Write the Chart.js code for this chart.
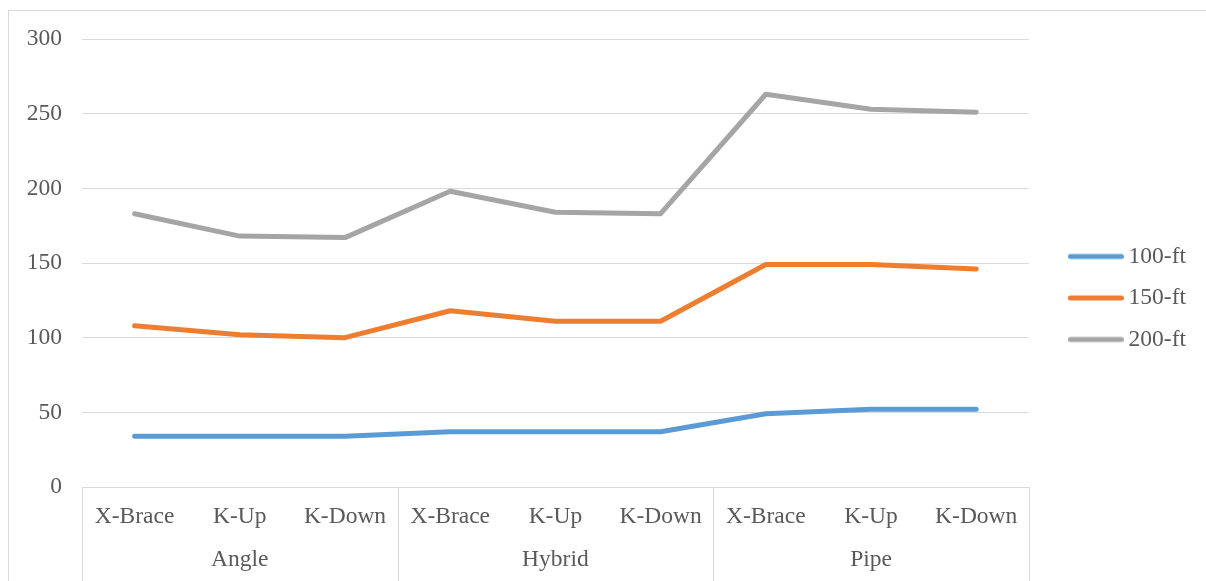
<!DOCTYPE html>
<html>
<head>
<meta charset="utf-8">
<script src="https://cdn.jsdelivr.net/npm/chart.js@4/dist/chart.umd.min.js"></script>
<style>
    html, body { margin: 0; padding: 0; background: #fff; overflow: hidden; }
    #frame { position: absolute; left: 8px; top: 10px; width: 1220px; height: 600px; border: 1px solid #d9d9d9; box-sizing: border-box; }
    #wrap { position: absolute; left: 0; top: 0; width: 1206px; height: 581px; }
</style>
</head>
<body>
<div id="frame"></div>
<div id="wrap"><canvas id="linha"></canvas></div>
<script>
// categorias: tipo de contraventamento dentro de cada grupo de perfil
const groups = ['Angle', 'Hybrid', 'Pipe']
const braces = ['X-Brace', 'K-Up', 'K-Down']
const yTicks = [0, 50, 100, 150, 200, 250, 300]

const serie_100 = [34, 34, 34, 37, 37, 37, 49, 52, 52]
const serie_150 = [108, 102, 100, 118, 111, 111, 149, 149, 146]
const serie_200 = [183, 168, 167, 198, 184, 183, 263, 253, 251]

const labels = []
groups.forEach(() => braces.forEach(b => labels.push(b)))

const fonte = { family: "'Liberation Serif', 'Times New Roman', serif", size: 23.5 }
const alturaLinha = 1.83
const cinza = '#d9d9d9'
const corTexto = '#595959'

// marcador da legenda: traço arredondado desenhado num canvas pequeno
function traco(cor){
    const c = document.createElement('canvas')
    c.width = 84
    c.height = 8
    const g = c.getContext('2d')
    g.strokeStyle = cor
    g.lineWidth = 5
    g.lineCap = 'round'
    g.beginPath()
    g.moveTo(30.5, 4)
    g.lineTo(81.5, 4)
    g.stroke()
    return c
}

// segundo nível do eixo x: separadores verticais e nome de cada grupo
const eixoGrupos = {
    id: 'eixoGrupos',
    afterDraw(chart){
        const x = chart.scales.x
        const ctx = chart.ctx
        const n = braces.length
        const pos = [x.left, x.right]
        for (let i = n; i < labels.length; i += n) {
            pos.push((x.getPixelForValue(i - 1) + x.getPixelForValue(i)) / 2)
        }
        ctx.save()
        ctx.strokeStyle = cinza
        ctx.lineWidth = 1
        pos.forEach(p => {
            const px = Math.round(p) + 0.5
            ctx.beginPath()
            ctx.moveTo(px, x.top)
            ctx.lineTo(px, chart.height)
            ctx.stroke()
        })
        const lh = fonte.size * alturaLinha
        const y = x.top + x.options.ticks.padding + lh * 1.5
        ctx.fillStyle = corTexto
        ctx.font = `${fonte.size}px ${fonte.family}`
        ctx.textAlign = 'center'
        ctx.textBaseline = 'middle'
        groups.forEach((g, k) => {
            const a = x.getPixelForValue(k * n)
            const b = x.getPixelForValue(k * n + n - 1)
            ctx.fillText(g, (a + b) / 2, y)
        })
        ctx.restore()
    }
}

const datasets = [
    { label: '100-ft', data: serie_100, borderColor: '#5b9bd5', backgroundColor: '#5b9bd5' },
    { label: '150-ft', data: serie_150, borderColor: '#ed7d31', backgroundColor: '#ed7d31' },
    { label: '200-ft', data: serie_200, borderColor: '#a5a5a5', backgroundColor: '#a5a5a5' },
]

const ctx = document.getElementById('linha').getContext('2d')
const chart = new Chart(ctx, {
    type: 'line',
    data: {
        labels,
        datasets: datasets.map(ds => ({
            ...ds,
            fill: false,
            tension: 0,
            borderWidth: 5,
            borderCapStyle: 'round',
            borderJoinStyle: 'round',
            pointRadius: 0,
            pointHoverRadius: 0,
            pointStyle: traco(ds.borderColor)
        }))
    },
    options: {
        responsive: true,
        maintainAspectRatio: false,
        animation: false,
        layout: { padding: { top: 39, left: 0, right: 10, bottom: 24 } },
        plugins: {
            legend: {
                display: true,
                position: 'right',
                labels: {
                    usePointStyle: true,
                    pointStyleWidth: 70,
                    boxHeight: 5,
                    padding: 18,
                    color: corTexto,
                    font: fonte
                }
            },
            title: { display: false },
            tooltip: { enabled: false }
        },
        scales: {
            x: {
                offset: true,
                grid: { display: false, drawTicks: false, offset: true },
                border: { display: true, color: cinza, width: 1 },
                ticks: {
                    color: corTexto,
                    font: { ...fonte, lineHeight: alturaLinha },
                    padding: 8,
                    maxRotation: 0,
                    autoSkip: false
                },
                afterFit(scale){ scale.height = 70 }
            },
            y: {
                min: 0,
                max: 300,
                afterBuildTicks(scale){ scale.ticks = yTicks.map(v => ({ value: v })) },
                grid: { color: cinza, lineWidth: 1, drawTicks: false },
                border: { display: false },
                ticks: { color: corTexto, font: fonte, padding: 20 },
                afterFit(scale){ scale.width = 82 }
            }
        }
    },
    plugins: [eixoGrupos]
})
</script>
</body>
</html>
